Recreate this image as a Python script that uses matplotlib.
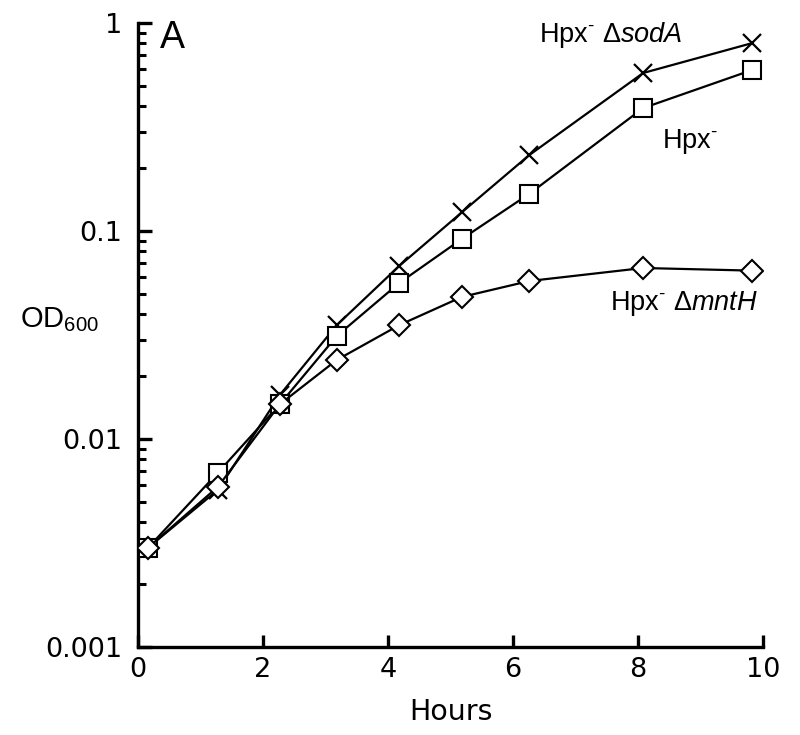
import matplotlib
matplotlib.use("Agg")
import matplotlib.pyplot as plt
from matplotlib.ticker import LogLocator, NullFormatter, FixedLocator, FixedFormatter

# growth curves, OD600 vs hours
hours = [0.16, 1.28, 2.27, 3.18, 4.18, 5.18, 6.26, 8.08, 9.82]
od_soda = [0.0030, 0.0057, 0.0163, 0.0353, 0.068, 0.123, 0.232, 0.575, 0.80]
od_hpx = [0.0030, 0.0069, 0.0147, 0.0313, 0.0563, 0.0916, 0.151, 0.39, 0.594]
od_mnth = [0.0030, 0.0059, 0.0147, 0.024, 0.0353, 0.0482, 0.0575, 0.0664, 0.0645]

ytick_vals = [0.001, 0.01, 0.1, 1]
ytick_text = ["0.001", "0.01", "0.1", "1"]
xtick_vals = [0, 2, 4, 6, 8, 10]

sans = "Liberation Sans"
plt.rcParams["mathtext.fontset"] = "custom"
plt.rcParams["mathtext.rm"] = sans
plt.rcParams["mathtext.it"] = sans + ":italic"

fig = plt.figure(figsize=(8, 7.35), dpi=100)
ax = fig.add_axes([0.1725, 0.1197, 0.7815, 0.849])

ax.plot(hours, od_soda, color="black", lw=1.6, marker="x", ms=13, mew=1.6, zorder=3)
ax.plot(hours, od_hpx, color="black", lw=1.6, marker="s", ms=13, mfc="white", mec="black", mew=1.5, zorder=4)
ax.plot(hours, od_mnth, color="black", lw=1.6, marker="D", ms=11, mfc="white", mec="black", mew=1.5, zorder=5)

ax.set_yscale("log")
ax.set_ylim(0.001, 1)
ax.set_xlim(0, 10)

ax.yaxis.set_major_locator(FixedLocator(ytick_vals))
ax.yaxis.set_major_formatter(FixedFormatter(ytick_text))
ax.yaxis.set_minor_locator(LogLocator(base=10, subs=range(2, 10)))
ax.yaxis.set_minor_formatter(NullFormatter())
ax.set_xticks(xtick_vals)

for s in ["top", "right"]:
    ax.spines[s].set_visible(False)
for s in ["left", "bottom"]:
    ax.spines[s].set_linewidth(2.4)

ax.tick_params(axis="both", which="major", direction="in", length=8.5, width=2.4, labelsize=19.5)
ax.tick_params(axis="x", which="major", pad=7)
ax.tick_params(axis="y", which="major", length=10, pad=11.5)
ax.tick_params(axis="y", which="minor", direction="in", length=6, width=2.2)

ax.set_xlabel("Hours", fontsize=20.5, labelpad=11)
fig.text(0.025, 0.565, "OD$_{600}$", fontsize=21, family=sans, va="center", ha="left")

ax.text(0.55, 0.85, "A", fontsize=27, family=sans, va="center", ha="center")
ax.text(7.57, 0.875, "Hpx$^{\\text{-}}$ $\\mathit{\\Delta sodA}$", fontsize=19.5, family=sans,
        va="center", ha="center")
ax.text(8.83, 0.27, "Hpx$^{\\text{-}}$", fontsize=19.5, family=sans, va="center", ha="center")
ax.text(8.74, 0.045, "Hpx$^{\\text{-}}$ $\\mathit{\\Delta mntH}$", fontsize=19.5, family=sans,
        va="center", ha="center")

fig.savefig("out.png", dpi=100)
